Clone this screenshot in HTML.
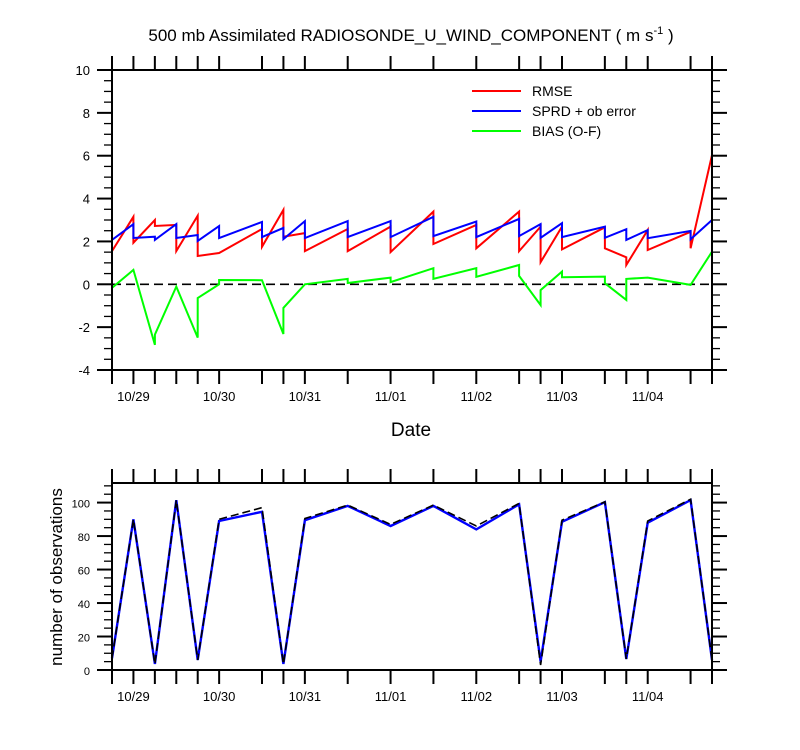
<!DOCTYPE html>
<html><head><meta charset="utf-8">
<style>
html,body{margin:0;padding:0;background:#fff;}
svg{display:block;font-family:"Liberation Sans",Arial,sans-serif;}
</style></head>
<body>
<svg id="chart" width="800" height="750" viewBox="0 0 800 750" xmlns="http://www.w3.org/2000/svg">
<rect x="0" y="0" width="800" height="750" fill="#fff"/>
<text x="411" y="41" text-anchor="middle" font-size="17">500 mb Assimilated RADIOSONDE_U_WIND_COMPONENT ( m s<tspan dy="-7" font-size="11">-1</tspan><tspan dy="7"> )</tspan></text>
<text x="411" y="436" text-anchor="middle" font-size="19">Date</text>
<text transform="translate(62,577) rotate(-90)" text-anchor="middle" font-size="17">number of observations</text>
<g id="top"></g>
<g id="bot"></g>
<g>
<line x1="472" y1="91" x2="521" y2="91" stroke="#ff0000" stroke-width="2"/>
<text x="532" y="96" font-size="14">RMSE</text>
<line x1="472" y1="111" x2="521" y2="111" stroke="#0000ff" stroke-width="2"/>
<text x="532" y="116" font-size="14">SPRD + ob error</text>
<line x1="472" y1="131" x2="521" y2="131" stroke="#00ff00" stroke-width="2"/>
<text x="532" y="136" font-size="14">BIAS (O-F)</text>
</g>
</svg>
<script>
// hours since 10/28 18Z
const tickHours=[0,6,12,18,24,30,42,48,54,66,78,90,102,114,120,126,138,144,150,162,168];
const dayLabels=["10/29","10/30","10/31","11/01","11/02","11/03","11/04"];
const dayHours=[6,30,54,78,102,126,150];
const rmseHours=[0,6,6,12,12,18,18,24,24,30,42,42,48,48,54,54,66,66,78,78,90,90,102,102,114,114,120,120,126,126,138,138,144,144,150,150,162,162,168];
const rmseVals=[1.55,3.15,1.94,3.0,2.72,2.77,1.55,3.2,1.32,1.46,2.58,1.75,3.47,2.22,2.39,1.55,2.58,1.55,2.69,1.5,3.39,1.88,2.77,1.68,3.39,1.55,2.69,1.03,2.69,1.63,2.66,1.68,1.26,0.9,2.53,1.6,2.45,1.68,6.03];
const sprdHours=[0,0,6,6,12,12,18,18,24,24,30,30,42,42,48,48,54,54,66,66,78,78,90,90,102,102,114,114,120,120,126,126,138,138,144,144,150,150,162,162,168,168];
const sprdVals=[2.8,2.07,2.81,2.16,2.22,2.07,2.81,2.16,2.3,2.02,2.72,2.16,2.91,2.2,2.63,2.11,2.95,2.16,2.95,2.2,2.95,2.2,3.15,2.25,2.93,2.2,3.05,2.25,2.81,2.17,2.85,2.2,2.69,2.17,2.57,2.07,2.53,2.15,2.49,2.1,3.0,2.07];
const biasHours=[0,0,6,12,12,18,24,24,30,30,42,48,48,54,66,66,78,78,90,90,102,102,114,114,120,120,126,126,138,138,144,144,150,162,168];
const biasVals=[-1.8,-0.17,0.67,-2.83,-2.35,-0.11,-2.49,-0.64,0.0,0.2,0.19,-2.32,-1.1,0.0,0.25,0.06,0.31,0.1,0.75,0.25,0.75,0.35,0.9,0.39,-0.97,-0.27,0.59,0.33,0.36,0.05,-0.73,0.25,0.31,-0.03,1.52];
const obsHours=[0,6,12,18,24,30,42,48,54,66,78,90,102,114,120,126,138,144,150,162,168];
const obsAssim=[7,90,3.6,101.5,6,89,94.5,3.6,89.5,98,86,98,84,99,5,88.5,100.3,6.6,88,101.5,6];
const obsTotal=[7,90,3.6,101.5,6,90,97,3.6,90.5,98.5,87,98.5,86,99.5,3,89.5,100.5,6.6,89,102,6];
const yTopTicks=[-4,-2,0,2,4,6,8,10];
const yBotTicks=[0,20,40,60,80,100];

const NS="http://www.w3.org/2000/svg";
const X0=112,X1=712,HMAX=168;
const xs=h=>X0+(h/HMAX)*(X1-X0);
const TOP={y0:70,y1:370,min:-4,max:10};
const BOT={y0:483,y1:670,min:0,max:111.7};
const ys=(ax,v)=>ax.y1-(v-ax.min)/(ax.max-ax.min)*(ax.y1-ax.y0);
function mk(tag,attrs,parent){const e=document.createElementNS(NS,tag);for(const k in attrs)e.setAttribute(k,attrs[k]);parent.appendChild(e);return e;}
function axes(g,ax,yticks,minorStep,labelSize){
  // x ticks
  tickHours.forEach(h=>{
    const x=xs(h);
    const t1=mk('line',{x1:x,y1:ax.y0,x2:x,y2:ax.y0-14,stroke:'#000','stroke-width':2},g);
    
    
    const t2=mk('line',{x1:x,y1:ax.y1,x2:x,y2:ax.y1+14,stroke:'#000','stroke-width':2},g);
    
    
  });
  dayHours.forEach((h,i)=>{
    const t=mk('text',{x:xs(h),y:ax.y1+31,'text-anchor':'middle','font-size':13},g);
    t.textContent=dayLabels[i];
    
    
  });
  for(let v=ax.min;v<=ax.max+1e-6;v+=minorStep){
    const y=ys(ax,v);
    const major=yticks.some(t=>Math.abs(t-v)<1e-6);
    const L=major?15:8;
    const a=mk('line',{x1:X0,y1:y,x2:X0-L,y2:y,stroke:'#000','stroke-width':major?2:1.3},g);
    
    
    const b=mk('line',{x1:X1,y1:y,x2:X1+L,y2:y,stroke:'#000','stroke-width':major?2:1.3},g);
    
    
  }
  yticks.forEach(v=>{
    const t=mk('text',{x:X0-22,y:ys(ax,v)+5,'text-anchor':'end','font-size':labelSize},g);
    t.textContent=String(v);
    
    
  });
}
function line(g,ax,hs,vs,color,name,extra){
  const pts=hs.map((h,i)=>xs(h).toFixed(1)+','+ys(ax,vs[i]).toFixed(1)).join(' ');
  const p=mk('polyline',Object.assign({points:pts,fill:'none',stroke:color,'stroke-width':2,'stroke-linejoin':'miter'},extra||{}),g);
  
  
}
const gt=document.getElementById('top');


axes(gt,TOP,yTopTicks,0.5,13);
const z=mk('line',{x1:X0,y1:ys(TOP,0),x2:X1,y2:ys(TOP,0),stroke:'#000','stroke-width':1.6,'stroke-dasharray':'9,5'},gt);


line(gt,TOP,biasHours,biasVals,'#00ff00','bias-series');
line(gt,TOP,rmseHours,rmseVals,'#ff0000','rmse-series');
line(gt,TOP,sprdHours,sprdVals,'#0000ff','sprd-series');
const bt=mk('rect',{x:X0,y:TOP.y0,width:X1-X0,height:TOP.y1-TOP.y0,fill:'none',stroke:'#000','stroke-width':2},gt);



const gb=document.getElementById('bot');


axes(gb,BOT,yBotTicks,5,11);
line(gb,BOT,obsHours,obsAssim,'#0000ff','obs-assimilated-series',{'stroke-width':2.4});
line(gb,BOT,obsHours,obsTotal,'#000','obs-total-series',{'stroke-dasharray':'8,4','stroke-width':1.6});
const bb=mk('rect',{x:X0,y:BOT.y0,width:X1-X0,height:BOT.y1-BOT.y0,fill:'none',stroke:'#000','stroke-width':2},gb);


</script>
</body></html>
